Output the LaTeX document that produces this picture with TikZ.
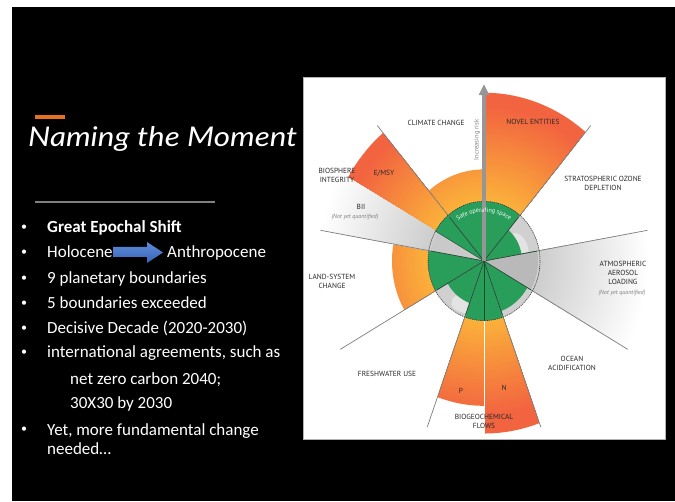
\documentclass[tikz,border=0pt]{standalone}
\usepackage{fontspec}
\usetikzlibrary{arrows.meta,decorations.text}
\newfontfamily\bodyfont{Carlito}
\newfontfamily\labfont{PT Sans}
\newfontfamily\titfont{Lato}
\definecolor{grn}{RGB}{40,158,90}
\definecolor{dgrn}{RGB}{25,110,60}
\definecolor{globe}{RGB}{208,208,208}
\definecolor{labgrey}{RGB}{40,40,40}
\definecolor{obar}{RGB}{228,112,32}
\definecolor{linegrey}{RGB}{125,125,125}
\newcommand\orangewedge[3]{%
  \foreach \i in {50,49,...,0}{%
    \pgfmathsetmacro\rr{56+(#3-56)*\i/50}%
    \pgfmathsetmacro\tt{min(1,(\rr-56)/90)}%
    \pgfmathsetmacro\cR{(251-9*\tt)/255}%
    \pgfmathsetmacro\cG{(178-78*\tt)/255}%
    \pgfmathsetmacro\cB{(58+6*\tt)/255}%
    \definecolor{rampc}{rgb}{\cR,\cG,\cB}%
    \fill[rampc] (0,0) -- (#1:\rr) arc[start angle=#1, end angle=#2, radius=\rr] -- cycle;
  }}
\newcommand\greywedge[3]{%
  \foreach \i in {50,49,...,0}{%
    \pgfmathsetmacro\rr{56+(#3-56)*\i/50}%
    \pgfmathsetmacro\tt{(\rr-56)/(#3-56)}%
    \pgfmathsetmacro\cV{(205+50*\tt)/255}%
    \definecolor{rampc}{rgb}{\cV,\cV,\cV}%
    \fill[rampc] (0,0) -- (#1:\rr) arc[start angle=#1, end angle=#2, radius=\rr] -- cycle;
  }}
\begin{document}
\begin{tikzpicture}[x=1pt,y=1pt,
  lab/.style={font=\labfont\fontsize{7.4}{9}\selectfont, text=labgrey, align=center, inner sep=0pt},
  nyq/.style={font=\labfont\itshape\fontsize{6}{7}\selectfont, text=gray, inner sep=0pt},
  bul/.style={font=\bodyfont\fontsize{17}{20}\selectfont, text=white, anchor=base west, inner sep=0pt},
  dot/.style={font=\bodyfont\fontsize{12}{14}\selectfont, text=white, anchor=base west, inner sep=0pt},
  radline/.style={draw=linegrey, line width=0.7}]
\useasboundingbox (0,0) rectangle (675,501);
\fill[white] (0,0) rectangle (675,501);
\fill[black] (12,0) rectangle (675,494);
\filldraw[fill=white, draw=gray!60, line width=0.8] (303,62) rectangle (665,424);

% ---- left side ----
\fill[obar] (35,382) rectangle (65,386);
\node[anchor=base west, inner sep=0pt, text=white] (title) at (28,354)
  {\resizebox{269pt}{20pt}{\titfont\itshape Naming the Moment}};
\draw[gray, line width=2] (35,298.5) -- (215,298.5);

\foreach \y/\n in {268/1,243/2,217/3,192/4,167/5,143/6,66/9}{
  \node[dot] (bul\n) at (21,\y+2) {•};
}
\node[bul] (t1) at (47,268) {\bfseries Great Epochal Shift};
\node[bul] (t2) at (47,243) {Holocene};
\node[bul] (t2b) at (167,243) {Anthropocene};
\node[bul] (t3) at (47,217) {9 planetary boundaries};
\node[bul] (t4) at (47,192) {5 boundaries exceeded};
\node[bul] (t5) at (47,167) {Decisive Decade (2020-2030)};
\node[bul] (t6) at (47,143) {international agreements, such as};
\node[bul] (t7) at (70,116) {net zero carbon 2040;};
\node[bul] (t8) at (70,92) {30X30 by 2030};
\node[bul] (t9) at (47,66) {Yet, more fundamental change};
\node[bul] (t10) at (47,46) {needed…};
\shade[top color={rgb,255:red,95;green,140;blue,215}, bottom color={rgb,255:red,55;green,100;blue,185}]
  (113,244) -- (147,244) -- (147,238) -- (163,248.5) -- (147,259) -- (147,254) -- (113,254) -- cycle;

% ---- planetary boundaries ----
\begin{scope}[shift={(484,240)}, yscale=1.065]
  \orangewedge{50}{90}{158}
  \orangewedge{90}{130}{86}
  \orangewedge{130}{150}{157}
  \orangewedge{170}{210}{92}
  \orangewedge{250}{270}{136}
  \orangewedge{270}{290}{162}
  \greywedge{150}{170}{166}
  \greywedge{-30}{10}{166}
  % globe
  \fill[globe] (0,0) circle[radius=56];
  \fill[globe!60!white] (22,22) .. controls (35,35) and (48,15) .. (44,2) .. controls (38,-8) and (28,-2) .. (22,22);
  \fill[globe!60!white] (-30,-34) .. controls (-40,-44) and (-20,-52) .. (-10,-48) .. controls (-15,-40) and (-25,-28) .. (-30,-34);
  % green sectors
  \fill[grn] (0,0) -- (50:56) arc[start angle=50, end angle=150, radius=56] -- cycle;
  \fill[grn] (0,0) -- (170:56) arc[start angle=170, end angle=210, radius=56] -- cycle;
  \fill[grn] (0,0) -- (250:56) arc[start angle=250, end angle=290, radius=56] -- cycle;
  \fill[grn] (0,0) -- (10:38) arc[start angle=10, end angle=50, radius=38] -- cycle;
  \fill[grn] (0,0) -- (290:50) arc[start angle=290, end angle=330, radius=50] -- cycle;
  \fill[grn] (0,0) -- (210:42) arc[start angle=210, end angle=250, radius=42] -- cycle;
  % grey inner sectors
  \fill[gray!55] (0,0) -- (-30:54) arc[start angle=-30, end angle=10, radius=54] -- cycle;
  \fill[gray!42] (0,0) -- (150:54) arc[start angle=150, end angle=170, radius=54] -- cycle;
  % radial lines
  \foreach \a in {50,10,-30,-70,-110,-150,170,130}{
    \draw[radline] (0,0) -- (\a:166);
    \draw[dgrn!70!black, line width=0.6] (0,0) -- (\a:54);
  }
  \draw[white, line width=0.6] (270:56) -- (270:162);
  \draw[dgrn!70!black, line width=0.5] (0,0) -- (270:56);
  \draw[dgrn!70!black, line width=0.5] (0,0) -- (150:56);
  % safe boundary
  \draw[black!80, line width=0.6, dash pattern=on 1.2 off 0.9] (0,0) circle[radius=56];
  % risk arrow
  \draw[draw={rgb,255:red,150;green,150;blue,150}, line width=3.4, -{Triangle[width=10pt,length=11pt]}] (0,0) -- (90:166);
  \path[decorate, decoration={text along path, text align=center,
     text={|\labfont\fontsize{6.2}{7}\selectfont\color{white}|Safe operating space}}]
     (128:46) arc[start angle=128, end angle=52, radius=46];
\end{scope}

% labels
\node[lab] (cc) at (436,378) {CLIMATE CHANGE};
\node[lab] (ne) at (533,379) {NOVEL ENTITIES};
\node[lab] (oz) at (603,318) {STRATOSPHERIC OZONE\\DEPLETION};
\node[lab] (bi) at (337,326) {BIOSPHERE\\INTEGRITY};
\node[lab] (em) at (384,328) {E/MSY};
\node[lab] (bii) at (361,294) {BII};
\node[nyq] (bnq) at (355,284) {(Not yet quantified)};
\node[lab] (aa) at (623,228) {ATMOSPHERIC\\AEROSOL\\LOADING};
\node[nyq] (anq) at (622,208) {(Not yet quantified)};
\node[lab] (ls) at (332,220) {LAND-SYSTEM\\CHANGE};
\node[lab] (oa) at (572,138) {OCEAN\\ACIDIFICATION};
\node[lab] (fw) at (387,127) {FRESHWATER USE};
\node[lab] (pp) at (461,110) {P};
\node[lab] (nn) at (504,113) {N};
\node[lab] (bg) at (484,80) {BIOGEOCHEMICAL\\FLOWS};
\node[font=\labfont\fontsize{6.6}{7}\selectfont, text=gray, rotate=90, inner sep=0pt] (ir) at (477,361) {Increasing risk};
\end{tikzpicture}
\end{document}
